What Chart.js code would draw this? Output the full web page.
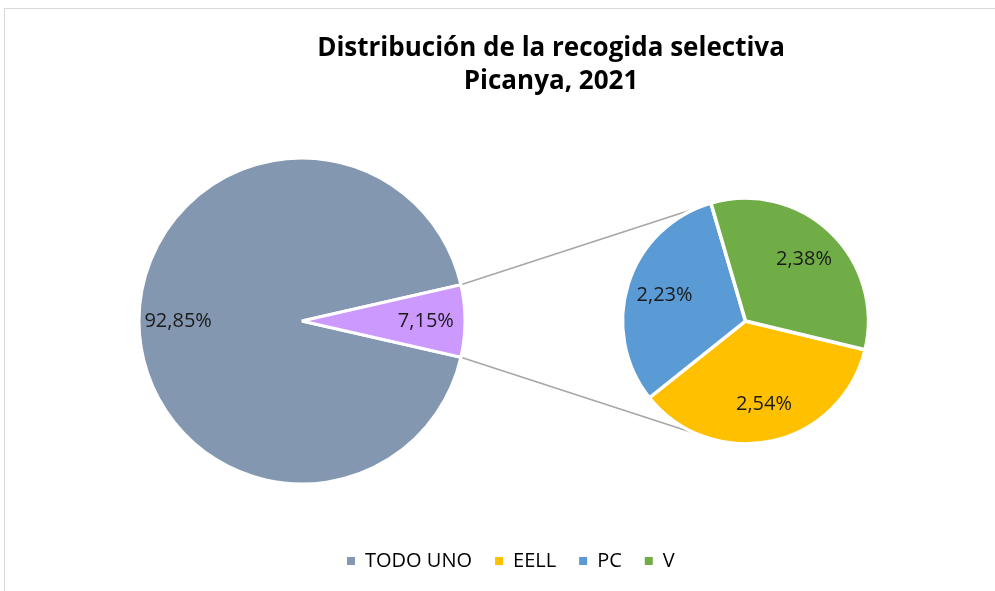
<!DOCTYPE html>
<html>
<head>
<meta charset="utf-8">
<script src="https://cdn.jsdelivr.net/npm/chart.js@4.4.1/dist/chart.umd.min.js"></script>
<style>
  html, body { margin: 0; padding: 0; background: #fff; width: 995px; height: 591px; overflow: hidden; }
  #page { position: relative; width: 995px; height: 591px; overflow: hidden; }
  #page canvas { position: absolute; left: 0; top: 0; }
  #border { position: absolute; left: 4px; top: 8px; width: 1100px; height: 700px; border-left: 1px solid #d9d9d9; border-top: 1px solid #d9d9d9; }
</style>
</head>
<body>
<div id="page">
  <div id="border"></div>
  <canvas id="frameChart" width="995" height="591"></canvas>
  <canvas id="mainChart" width="995" height="591"></canvas>
  <canvas id="secondChart" width="1167" height="591"></canvas>
</div>
<script>
// data
const chartTitle = ['Distribución de la recogida selectiva', 'Picanya, 2021'];

const mainLabels = ['TODO UNO', 'Otros'];
const mainValues = [92.85, 7.15];
const mainColors = ['#8497B0', '#CC99FF'];

const secondLabels = ['EELL', 'PC', 'V'];
const secondValues = [2.54, 2.23, 2.38];
const secondColors = ['#FFC000', '#5B9BD5', '#70AD47'];

const FONT = "'Open Sans', sans-serif";

function formatPct(value) {
  return value.toFixed(2).replace('.', ',') + '%';
}

// percentage text inside every slice
const sliceLabels = {
  id: 'sliceLabels',
  afterDatasetsDraw(chart, args, opts) {
    const { ctx } = chart;
    const meta = chart.getDatasetMeta(0);
    const values = chart.data.datasets[0].data;
    ctx.save();
    ctx.font = `${opts.size}px ${FONT}`;
    ctx.fillStyle = '#1a1a1a';
    ctx.textAlign = 'center';
    ctx.textBaseline = 'middle';
    meta.data.forEach((arc, i) => {
      const { x, y, startAngle, endAngle, outerRadius } = arc.getProps(
        ['x', 'y', 'startAngle', 'endAngle', 'outerRadius'],
        true
      );
      const mid = (startAngle + endAngle) / 2;
      const r = outerRadius * opts.position;
      ctx.fillText(formatPct(values[i]), x + Math.cos(mid) * r, y + Math.sin(mid) * r);
    });
    ctx.restore();
  },
};

let mainChartInstance = null;
let secondChartInstance = null;

function mainChart() {
  const total = mainValues.reduce((a, b) => a + b, 0);
  // put the small slice centred on the right side
  const rotation = 90 + (mainValues[1] / total) * 180;

  const ctx = document.getElementById('mainChart').getContext('2d');
  mainChartInstance = new Chart(ctx, {
    type: 'pie',
    data: {
      labels: mainLabels,
      datasets: [
        {
          data: mainValues,
          backgroundColor: mainColors,
          borderColor: '#ffffff',
          borderWidth: 3,
          radius: 163,
        },
      ],
    },
    options: {
      responsive: false,
      animation: false,
      events: [],
      rotation,
      layout: { padding: { left: 0, right: 391, top: 159, bottom: 108 } },
      plugins: {
        legend: { display: false },
        tooltip: { enabled: false },
        sliceLabels: { position: 0.76, size: 20 },
      },
    },
    plugins: [sliceLabels],
  });
}

function secondChart() {
  const legendLabels = [mainLabels[0], ...secondLabels];
  const legendColors = [mainColors[0], ...secondColors];

  const ctx = document.getElementById('secondChart').getContext('2d');
  secondChartInstance = new Chart(ctx, {
    type: 'pie',
    data: {
      labels: secondLabels,
      datasets: [
        {
          data: secondValues,
          backgroundColor: secondColors,
          borderColor: '#ffffff',
          borderWidth: 3.5,
          radius: 123,
        },
      ],
    },
    options: {
      responsive: false,
      animation: false,
      events: [],
      rotation: 103.5,
      layout: { padding: { left: 324, right: 0, top: 114, bottom: 10 } },
      plugins: {
        tooltip: { enabled: false },
        sliceLabels: { position: 0.69, size: 20 },
        legend: {
          position: 'bottom',
          align: 'start',
          fullSize: false,
          labels: {
            boxWidth: 8,
            boxHeight: 8,
            padding: 23,
            color: '#262626',
            font: { family: FONT, size: 20 },
            generateLabels: () =>
              legendLabels.map((text, i) => ({
                text,
                fillStyle: legendColors[i],
                strokeStyle: legendColors[i],
                lineWidth: 0,
                hidden: false,
                index: i,
              })),
          },
        },
      },
    },
    plugins: [sliceLabels],
  });
}

// grey lines from the small slice to the secondary pie
const connectorLines = {
  id: 'connectorLines',
  afterDraw(chart) {
    const small = mainChartInstance.getDatasetMeta(0).data[1];
    const a = small.getProps(['x', 'y', 'startAngle', 'endAngle', 'outerRadius'], true);
    const b = secondChartInstance.getDatasetMeta(0).data[0].getProps(['x', 'y', 'outerRadius'], true);
    const CONNECT_ANGLE = 1.97;
    const { ctx } = chart;
    ctx.save();
    ctx.strokeStyle = '#a6a6a6';
    ctx.lineWidth = 1.5;
    ctx.beginPath();
    ctx.moveTo(a.x + Math.cos(a.startAngle) * a.outerRadius, a.y + Math.sin(a.startAngle) * a.outerRadius);
    ctx.lineTo(b.x + Math.cos(-CONNECT_ANGLE) * b.outerRadius, b.y + Math.sin(-CONNECT_ANGLE) * b.outerRadius);
    ctx.moveTo(a.x + Math.cos(a.endAngle) * a.outerRadius, a.y + Math.sin(a.endAngle) * a.outerRadius);
    ctx.lineTo(b.x + Math.cos(CONNECT_ANGLE) * b.outerRadius, b.y + Math.sin(CONNECT_ANGLE) * b.outerRadius);
    ctx.stroke();
    ctx.restore();
  },
};

function frameChart() {
  const ctx = document.getElementById('frameChart').getContext('2d');
  new Chart(ctx, {
    type: 'pie',
    data: { labels: [], datasets: [] },
    options: {
      responsive: false,
      animation: false,
      events: [],
      layout: { padding: { left: 107, right: 0, top: 0, bottom: 0 } },
      plugins: {
        legend: { display: false },
        tooltip: { enabled: false },
        title: {
          display: true,
          text: chartTitle,
          color: '#000000',
          padding: { top: 32, bottom: 0 },
          font: { family: FONT, size: 26, weight: 'bold', lineHeight: 1.27 },
        },
      },
    },
    plugins: [connectorLines],
  });
}

mainChart();
secondChart();
frameChart();
</script>
</body>
</html>
